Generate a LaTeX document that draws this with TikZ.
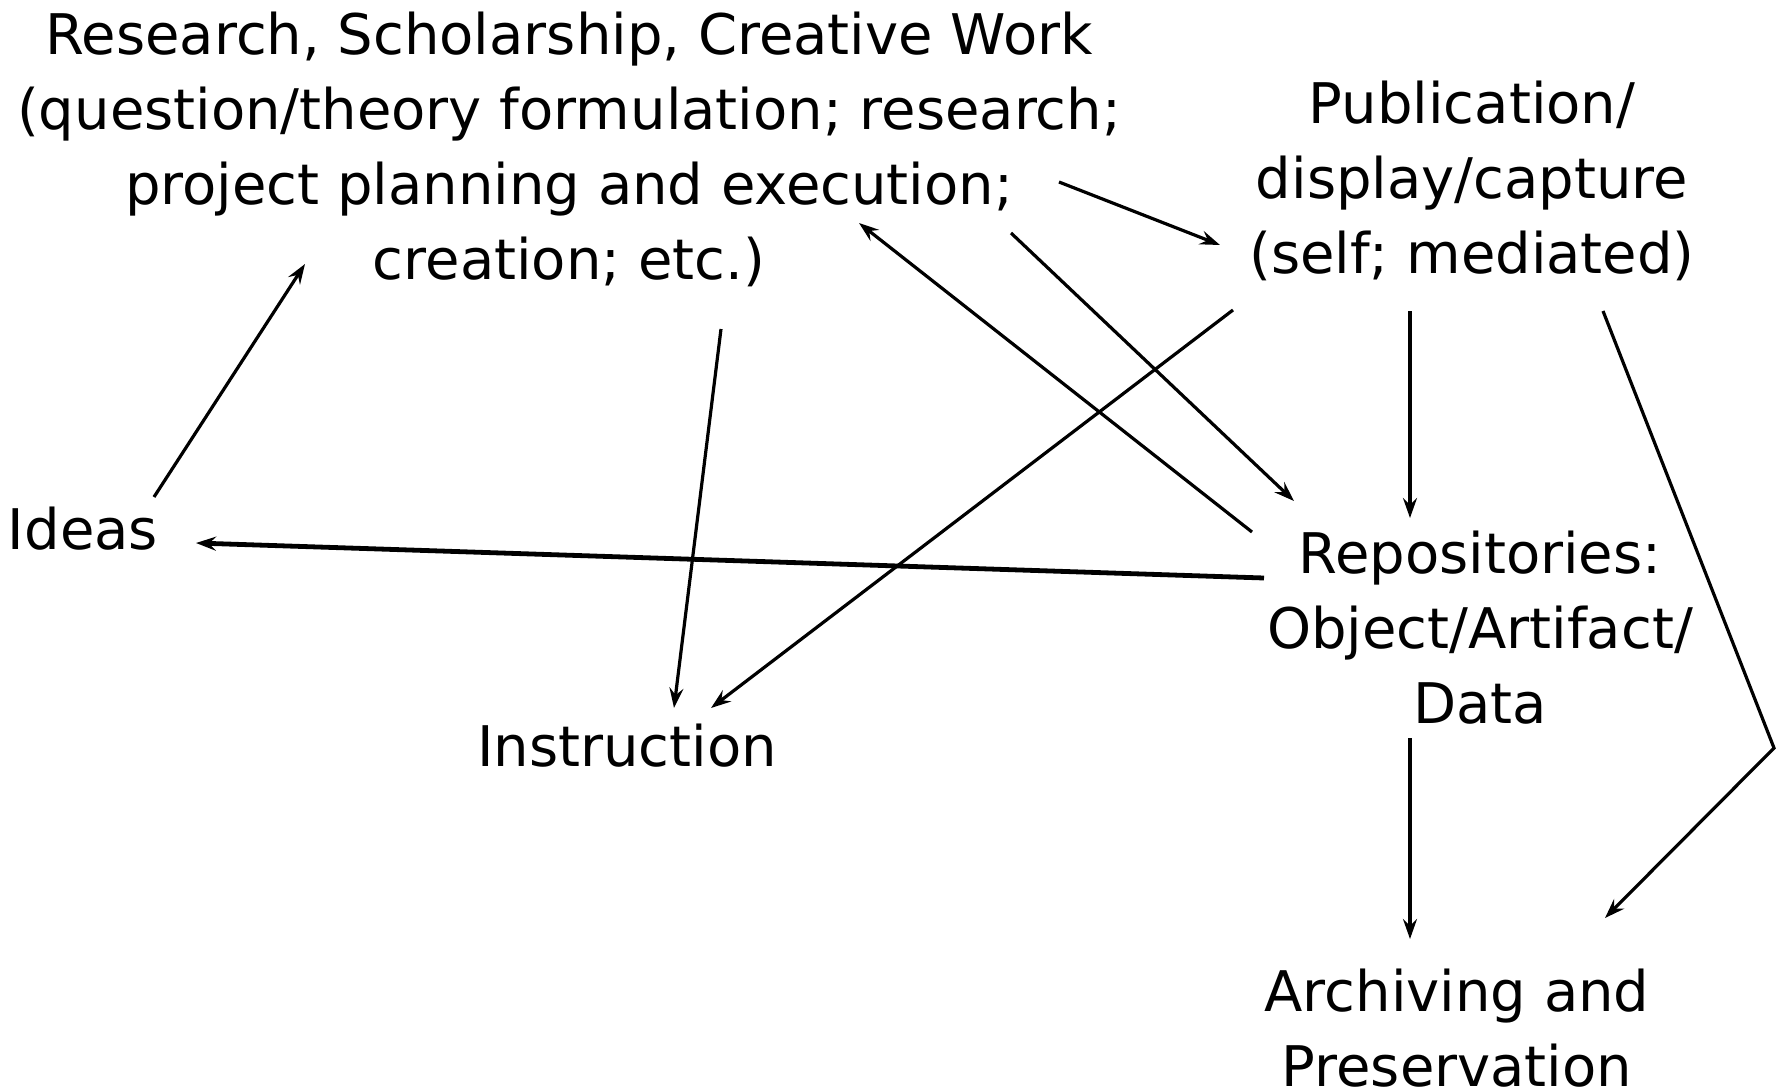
\documentclass[tikz,border=0pt]{standalone}
\usepackage{fontspec}
\setmainfont{DejaVu Sans}
\usetikzlibrary{arrows.meta,calc}
\begin{document}
\begin{tikzpicture}[x=0.5pt,y=-0.5pt,
  lbl/.style={align=center,inner sep=0pt,font=\fontsize{28}{37.5}\selectfont},
  conn/.style={line width=1.6pt,-{Stealth[length=10pt,width=7pt,inset=3.5pt]}},
  thickconn/.style={conn,line width=2.4pt}]
\useasboundingbox (0,0) rectangle (1785,1092);
\node[lbl] (research) at (569,149) {Research, Scholarship, Creative Work\\(question/theory formulation; research;\\project planning and execution;\\creation; etc.)};
\node[lbl] (pub) at (1472,181) {Publication/\\display/capture\\(self; mediated)};
\node[lbl] (ideas) at (83,529) {Ideas};
\node[lbl] (instr) at (627,746) {Instruction};
\node[lbl] (repo) at (1480,628) {Repositories:\\Object/Artifact/\\Data};
\node[lbl] (arch) at (1457,1028) {Archiving and\\Preservation};
% connectors
\draw[conn] ($(ideas)+(71,-32)$) -- ($(research)+(-264,115)$);
\draw[conn] ($(research)+(490,33)$) -- ($(pub)+(-252,64)$);
\draw[conn] ($(repo)+(-228,-96)$) -- ($(research)+(290,74)$);
\draw[conn] ($(research)+(442,84)$) -- ($(repo)+(-186,-127)$);
\draw[conn] ($(pub)+(-239,129)$) -- ($(instr)+(84,-38)$);
\draw[conn] ($(research)+(152,180)$) -- ($(instr)+(47,-38)$);
\draw[conn] ($(pub)+(-62,130)$) -- ($(repo)+(-70,-110)$);
\draw[thickconn] ($(repo)+(-216,-50)$) -- ($(ideas)+(113,14)$);
\draw[conn] ($(repo)+(-70,110)$) -- ($(arch)+(-47,-89)$);
\coordinate (bend) at ($(pub)+(302,567)$);
\draw[conn] ($(pub)+(131,130)$) -- (bend) -- ($(arch)+(148,-110)$);
\end{tikzpicture}
\end{document}
